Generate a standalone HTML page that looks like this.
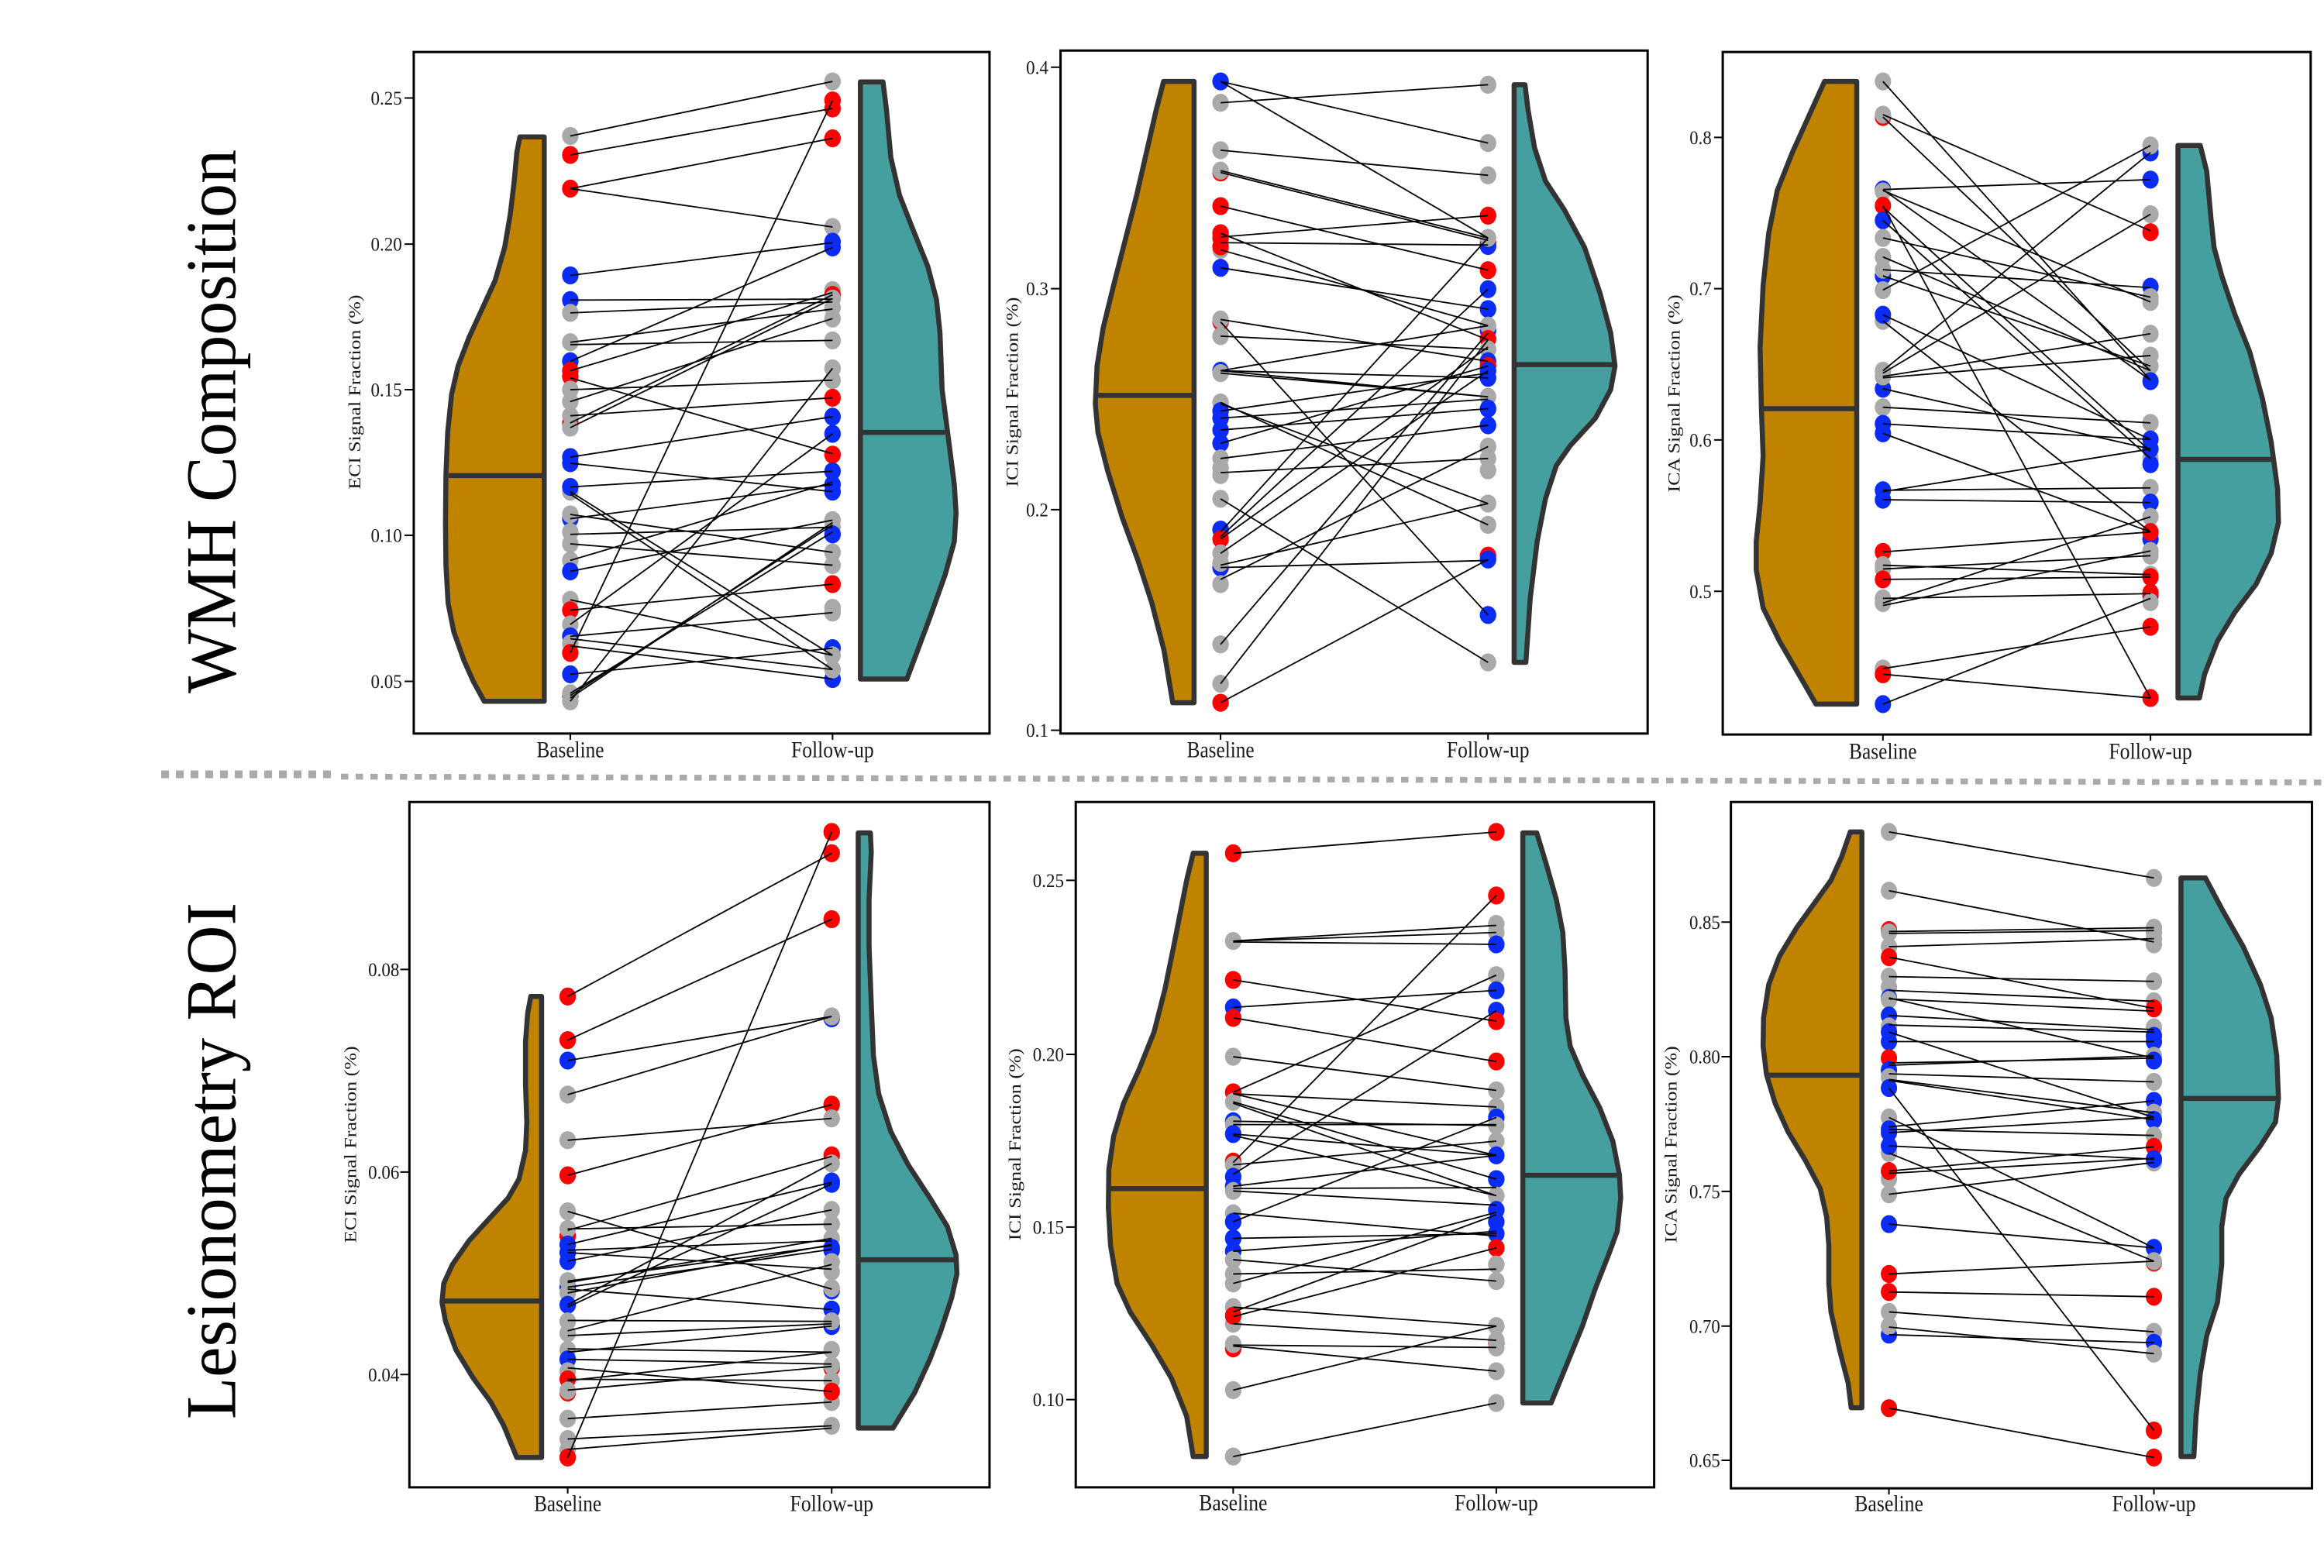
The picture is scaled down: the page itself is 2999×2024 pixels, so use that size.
<!DOCTYPE html>
<html><head><meta charset="utf-8">
<style>
html,body{margin:0;padding:0;background:#fff;}
svg{display:block;}
.g{fill:#a9a9a9}.r{fill:#ff0000}.b{fill:#0a2cf6}
.ln{fill:none;stroke:#000;stroke-width:1.8;vector-effect:non-scaling-stroke}
.vb{fill:#bf8300;stroke:#333;stroke-width:6.5;stroke-linejoin:round;vector-effect:non-scaling-stroke}
.vf{fill:#469f9f;stroke:#333;stroke-width:6.5;stroke-linejoin:round;vector-effect:non-scaling-stroke}
.md{stroke:#333;stroke-width:6.5;vector-effect:non-scaling-stroke}
.fr{fill:none;stroke:#000;stroke-width:3;vector-effect:non-scaling-stroke}
.tk{stroke:#000;stroke-width:2;vector-effect:non-scaling-stroke}
text{font-family:"Liberation Serif",serif;fill:#1a1a1a}
.yt{font-size:41px;text-anchor:end}
.xt{font-size:48px;text-anchor:middle}
.at{font-size:40px;text-anchor:middle}
</style></head>
<body>
<svg width="2999" height="2024" viewBox="0 0 2999 2024" xmlns="http://www.w3.org/2000/svg">
<rect x="0" y="0" width="2999" height="2024" fill="#fff"/>

<!-- Row labels -->
<text transform="translate(303.5,895) rotate(-90)" font-size="92" textLength="702" lengthAdjust="spacingAndGlyphs" style="fill:#000">WMH Composition</text>
<text transform="translate(303.5,1832) rotate(-90)" font-size="92" textLength="667" lengthAdjust="spacingAndGlyphs" style="fill:#000">Lesionometry ROI</text>

<!-- separator -->
<line x1="208" y1="999.5" x2="436" y2="999.5" stroke="#aaa" stroke-width="10" stroke-dasharray="10 9"/>
<line x1="440" y1="1002.5" x2="2999" y2="1010" stroke="#aaa" stroke-width="7.5" stroke-dasharray="9.5 9.5"/>

<!-- PANEL 1 -->
<g transform="translate(420,50) scale(0.5612,0.6122)">
<polygon class="vb" points="503,207 447,207 440,240 434,300 425,370 412,440 390,510 360,570 330,630 305,690 290,750 281,830 277,920 276,1020 277,1110 282,1190 295,1250 318,1310 340,1355 365,1397 503,1397"/>
<line class="md" x1="283" y1="921" x2="503" y2="921"/>
<polygon class="vf" points="1230,91 1282,91 1290,150 1300,250 1320,330 1350,400 1385,480 1405,550 1413,620 1418,740 1432,840 1446,940 1450,1000 1446,1060 1425,1130 1390,1220 1337,1350 1230,1350"/>
<line class="md" x1="1230" y1="830" x2="1425" y2="830"/>
<g>
<circle class="g" cx="563" cy="205" r="19"/><circle class="r" cx="563" cy="245" r="19"/><circle class="r" cx="563" cy="316" r="19"/><circle class="b" cx="563" cy="499" r="19"/><circle class="b" cx="563" cy="551" r="19"/><circle class="g" cx="563" cy="578" r="19"/><circle class="g" cx="563" cy="640" r="19"/><circle class="b" cx="563" cy="680" r="19"/><circle class="r" cx="563" cy="700" r="19"/><circle class="r" cx="563" cy="712" r="19"/><circle class="g" cx="563" cy="740" r="19"/><circle class="g" cx="563" cy="765" r="19"/><circle class="r" cx="563" cy="810" r="19"/><circle class="g" cx="563" cy="795" r="19"/><circle class="g" cx="563" cy="820" r="19"/><circle class="b" cx="563" cy="882" r="19"/><circle class="b" cx="563" cy="895" r="19"/><circle class="g" cx="563" cy="955" r="19"/><circle class="b" cx="563" cy="945" r="19"/><circle class="b" cx="563" cy="1012" r="19"/><circle class="g" cx="563" cy="1003" r="19"/><circle class="g" cx="563" cy="1040" r="19"/><circle class="g" cx="563" cy="1065" r="19"/><circle class="g" cx="563" cy="1100" r="19"/><circle class="b" cx="563" cy="1123" r="19"/><circle class="g" cx="563" cy="1183" r="19"/><circle class="r" cx="563" cy="1205" r="19"/><circle class="g" cx="563" cy="1235" r="19"/><circle class="b" cx="563" cy="1260" r="19"/><circle class="g" cx="563" cy="1275" r="19"/><circle class="r" cx="563" cy="1295" r="19"/><circle class="b" cx="563" cy="1340" r="19"/><circle class="b" cx="563" cy="1385" r="19"/><circle class="g" cx="563" cy="1380" r="19"/><circle class="g" cx="563" cy="1397" r="19"/>
<circle class="g" cx="1166" cy="90" r="19"/><circle class="r" cx="1166" cy="130" r="19"/><circle class="r" cx="1166" cy="147" r="19"/><circle class="r" cx="1166" cy="210" r="19"/><circle class="g" cx="1166" cy="397" r="19"/><circle class="b" cx="1166" cy="428" r="19"/><circle class="b" cx="1166" cy="440" r="19"/><circle class="g" cx="1166" cy="530" r="19"/><circle class="r" cx="1166" cy="540" r="19"/><circle class="g" cx="1166" cy="548" r="19"/><circle class="g" cx="1166" cy="567" r="19"/><circle class="g" cx="1166" cy="590" r="19"/><circle class="g" cx="1166" cy="636" r="19"/><circle class="g" cx="1166" cy="695" r="19"/><circle class="g" cx="1166" cy="720" r="19"/><circle class="r" cx="1166" cy="757" r="19"/><circle class="b" cx="1166" cy="797" r="19"/><circle class="b" cx="1166" cy="833" r="19"/><circle class="r" cx="1166" cy="877" r="19"/><circle class="b" cx="1166" cy="912" r="19"/><circle class="b" cx="1166" cy="940" r="19"/><circle class="b" cx="1166" cy="955" r="19"/><circle class="g" cx="1166" cy="1015" r="19"/><circle class="g" cx="1166" cy="1030" r="19"/><circle class="b" cx="1166" cy="1045" r="19"/><circle class="g" cx="1166" cy="1083" r="19"/><circle class="g" cx="1166" cy="1110" r="19"/><circle class="r" cx="1166" cy="1150" r="19"/><circle class="g" cx="1166" cy="1200" r="19"/><circle class="g" cx="1166" cy="1210" r="19"/><circle class="b" cx="1166" cy="1285" r="19"/><circle class="g" cx="1166" cy="1300" r="19"/><circle class="b" cx="1166" cy="1350" r="19"/><circle class="g" cx="1166" cy="1330" r="19"/>
</g>
<path class="ln" d="M563 205L1166 90M563 245L1166 147M563 316L1166 210M563 316L1166 397M563 499L1166 430M563 551L1166 549M563 578L1166 555M563 640L1166 570M563 645L1166 636M563 680L1166 440M563 700L1166 535M563 715L1166 875M563 740L1166 720M563 765L1166 590M563 795L1166 757M563 810L1166 540M563 820L1166 548M563 882L1166 797M563 895L1166 955M563 945L1166 912M563 955L1166 1300M563 960L1166 1330M563 1003L1166 1083M563 1012L1166 940M563 1045L1166 1030M563 1065L1166 1110M563 1100L1166 935M563 1123L1166 1015M563 1183L1166 1300M563 1205L1166 1150M563 1235L1166 833M563 1260L1166 1210M563 1265L1166 1330M563 1280L1166 1350M563 1295L1166 130M563 1340L1166 1285M563 1380L1166 1040M563 1385L1166 1025M563 1397L1166 695M563 1390L1166 1020"/>
<rect class="fr" x="203" y="28" width="1324" height="1437"/>
<path class="tk" d="M182 125H203M182 433H203M182 740H203M182 1047H203M182 1355H203M563 1465V1478M1166 1465V1478"/>
<text class="yt" x="176" y="139">0.25</text><text class="yt" x="176" y="447">0.20</text><text class="yt" x="176" y="754">0.15</text><text class="yt" x="176" y="1061">0.10</text><text class="yt" x="176" y="1369">0.05</text>
<text class="xt" x="563" y="1515" textLength="155" lengthAdjust="spacingAndGlyphs">Baseline</text>
<text class="xt" x="1166" y="1515" textLength="190" lengthAdjust="spacingAndGlyphs">Follow-up</text>
<text class="at" transform="translate(80,745) rotate(-90)" textLength="410" lengthAdjust="spacingAndGlyphs">ECI Signal Fraction (%)</text>
</g>

<!-- PANEL 2 -->
<g transform="translate(1290,50) scale(0.5612,0.6122)">
<polygon class="vb" points="447,90 377,90 360,150 340,230 315,330 290,420 262,520 238,610 224,690 220,770 226,830 248,910 282,1010 318,1100 350,1190 378,1290 398,1400 447,1400"/>
<line class="md" x1="222" y1="752" x2="447" y2="752"/>
<polygon class="vf" points="1183,97 1208,97 1215,150 1230,230 1255,300 1298,360 1345,440 1380,535 1405,620 1415,690 1405,740 1370,800 1312,858 1280,900 1255,970 1236,1060 1220,1180 1210,1315 1183,1315"/>
<line class="md" x1="1183" y1="687" x2="1412" y2="687"/>
<g>
<circle class="b" cx="508" cy="90" r="19"/><circle class="g" cx="508" cy="135" r="19"/><circle class="g" cx="508" cy="235" r="19"/><circle class="r" cx="508" cy="282" r="19"/><circle class="g" cx="508" cy="278" r="19"/><circle class="r" cx="508" cy="353" r="19"/><circle class="r" cx="508" cy="410" r="19"/><circle class="g" cx="508" cy="445" r="19"/><circle class="r" cx="508" cy="420" r="19"/><circle class="r" cx="508" cy="438" r="19"/><circle class="b" cx="508" cy="483" r="19"/><circle class="r" cx="508" cy="597" r="19"/><circle class="g" cx="508" cy="592" r="19"/><circle class="g" cx="508" cy="627" r="19"/><circle class="b" cx="508" cy="700" r="19"/><circle class="g" cx="508" cy="705" r="19"/><circle class="g" cx="508" cy="767" r="19"/><circle class="b" cx="508" cy="785" r="19"/><circle class="b" cx="508" cy="800" r="19"/><circle class="b" cx="508" cy="825" r="19"/><circle class="b" cx="508" cy="853" r="19"/><circle class="g" cx="508" cy="885" r="19"/><circle class="g" cx="508" cy="905" r="19"/><circle class="g" cx="508" cy="920" r="19"/><circle class="g" cx="508" cy="970" r="19"/><circle class="b" cx="508" cy="1035" r="19"/><circle class="r" cx="508" cy="1055" r="19"/><circle class="b" cx="508" cy="1115" r="19"/><circle class="g" cx="508" cy="1085" r="19"/><circle class="g" cx="508" cy="1105" r="19"/><circle class="g" cx="508" cy="1150" r="19"/><circle class="g" cx="508" cy="1277" r="19"/><circle class="g" cx="508" cy="1360" r="19"/><circle class="r" cx="508" cy="1400" r="19"/>
<circle class="g" cx="1123" cy="97" r="19"/><circle class="g" cx="1123" cy="220" r="19"/><circle class="g" cx="1123" cy="288" r="19"/><circle class="r" cx="1123" cy="373" r="19"/><circle class="r" cx="1123" cy="430" r="19"/><circle class="b" cx="1123" cy="437" r="19"/><circle class="g" cx="1123" cy="420" r="19"/><circle class="r" cx="1123" cy="488" r="19"/><circle class="b" cx="1123" cy="528" r="19"/><circle class="b" cx="1123" cy="570" r="19"/><circle class="b" cx="1123" cy="615" r="19"/><circle class="g" cx="1123" cy="605" r="19"/><circle class="r" cx="1123" cy="633" r="19"/><circle class="g" cx="1123" cy="655" r="19"/><circle class="b" cx="1123" cy="680" r="19"/><circle class="r" cx="1123" cy="690" r="19"/><circle class="b" cx="1123" cy="700" r="19"/><circle class="b" cx="1123" cy="715" r="19"/><circle class="g" cx="1123" cy="755" r="19"/><circle class="b" cx="1123" cy="780" r="19"/><circle class="b" cx="1123" cy="815" r="19"/><circle class="g" cx="1123" cy="860" r="19"/><circle class="g" cx="1123" cy="885" r="19"/><circle class="g" cx="1123" cy="910" r="19"/><circle class="g" cx="1123" cy="980" r="19"/><circle class="g" cx="1123" cy="1025" r="19"/><circle class="r" cx="1123" cy="1090" r="19"/><circle class="b" cx="1123" cy="1098" r="19"/><circle class="b" cx="1123" cy="1215" r="19"/><circle class="g" cx="1123" cy="1315" r="19"/>
</g>
<path class="ln" d="M508 90L1123 220M508 90L1123 420M508 135L1123 97M508 235L1123 288M508 278L1123 420M508 282L1123 425M508 353L1123 488M508 410L1123 635M508 418L1123 373M508 430L1123 435M508 445L1123 605M508 483L1123 570M508 592L1123 680M508 597L1123 1215M508 627L1123 655M508 700L1123 605M508 700L1123 715M508 700L1123 755M508 705L1123 755M508 767L1123 1025M508 770L1123 980M508 785L1123 705M508 800L1123 760M508 825L1123 780M508 853L1123 690M508 885L1123 815M508 915L1123 885M508 970L1123 1315M508 1040L1123 420M508 1050L1123 528M508 1055L1123 650M508 1085L1123 700M508 1110L1123 980M508 1115L1123 1100M508 1140L1123 860M508 1277L1123 620M508 1360L1123 635M508 1400L1123 1098"/>
<rect class="fr" x="140" y="25" width="1350" height="1440"/>
<path class="tk" d="M118 60H140M118 527H140M118 993H140M118 1458H140M508 1465V1478M1123 1465V1478"/>
<text class="yt" x="112" y="74">0.4</text><text class="yt" x="112" y="541">0.3</text><text class="yt" x="112" y="1007">0.2</text><text class="yt" x="112" y="1472">0.1</text>
<text class="xt" x="508" y="1515" textLength="155" lengthAdjust="spacingAndGlyphs">Baseline</text>
<text class="xt" x="1123" y="1515" textLength="190" lengthAdjust="spacingAndGlyphs">Follow-up</text>
<text class="at" transform="translate(42,745) rotate(-90)" textLength="400" lengthAdjust="spacingAndGlyphs">ICI Signal Fraction (%)</text>
</g>

<!-- PANEL 3 -->
<g transform="translate(2130,50) scale(0.5542,0.6122)">
<polygon class="vb" points="480,90 405,90 370,160 330,240 295,320 275,410 262,520 255,650 258,780 262,880 255,980 246,1060 246,1120 262,1200 300,1270 345,1340 385,1403 480,1403"/>
<line class="md" x1="258" y1="780" x2="480" y2="780"/>
<polygon class="vf" points="1228,225 1280,225 1295,280 1305,380 1312,440 1330,500 1360,580 1395,660 1425,760 1445,850 1460,950 1462,1020 1445,1085 1410,1150 1360,1210 1320,1270 1290,1340 1278,1390 1228,1390"/>
<line class="md" x1="1228" y1="887" x2="1445" y2="887"/>
<g>
<circle class="g" cx="541" cy="90" r="19"/><circle class="r" cx="541" cy="165" r="19"/><circle class="g" cx="541" cy="160" r="19"/><circle class="b" cx="541" cy="318" r="19"/><circle class="g" cx="541" cy="322" r="19"/><circle class="r" cx="541" cy="352" r="19"/><circle class="b" cx="541" cy="383" r="19"/><circle class="g" cx="541" cy="420" r="19"/><circle class="g" cx="541" cy="460" r="19"/><circle class="b" cx="541" cy="500" r="19"/><circle class="g" cx="541" cy="487" r="19"/><circle class="g" cx="541" cy="530" r="19"/><circle class="g" cx="541" cy="595" r="19"/><circle class="b" cx="541" cy="582" r="19"/><circle class="g" cx="541" cy="700" r="19"/><circle class="b" cx="541" cy="738" r="19"/><circle class="g" cx="541" cy="712" r="19"/><circle class="g" cx="541" cy="777" r="19"/><circle class="b" cx="541" cy="812" r="19"/><circle class="b" cx="541" cy="832" r="19"/><circle class="b" cx="541" cy="952" r="19"/><circle class="b" cx="541" cy="972" r="19"/><circle class="r" cx="541" cy="1082" r="19"/><circle class="g" cx="541" cy="1110" r="19"/><circle class="g" cx="541" cy="1118" r="19"/><circle class="r" cx="541" cy="1140" r="19"/><circle class="g" cx="541" cy="1180" r="19"/><circle class="g" cx="541" cy="1190" r="19"/><circle class="g" cx="541" cy="1328" r="19"/><circle class="r" cx="541" cy="1340" r="19"/><circle class="b" cx="541" cy="1403" r="19"/>
<circle class="b" cx="1164" cy="240" r="19"/><circle class="g" cx="1164" cy="225" r="19"/><circle class="b" cx="1164" cy="297" r="19"/><circle class="g" cx="1164" cy="370" r="19"/><circle class="r" cx="1164" cy="408" r="19"/><circle class="b" cx="1164" cy="523" r="19"/><circle class="g" cx="1164" cy="545" r="19"/><circle class="g" cx="1164" cy="555" r="19"/><circle class="g" cx="1164" cy="622" r="19"/><circle class="g" cx="1164" cy="668" r="19"/><circle class="g" cx="1164" cy="690" r="19"/><circle class="b" cx="1164" cy="722" r="19"/><circle class="g" cx="1164" cy="810" r="19"/><circle class="g" cx="1164" cy="885" r="19"/><circle class="b" cx="1164" cy="897" r="19"/><circle class="b" cx="1164" cy="845" r="19"/><circle class="b" cx="1164" cy="865" r="19"/><circle class="g" cx="1164" cy="947" r="19"/><circle class="b" cx="1164" cy="978" r="19"/><circle class="g" cx="1164" cy="1008" r="19"/><circle class="b" cx="1164" cy="1055" r="19"/><circle class="r" cx="1164" cy="1040" r="19"/><circle class="g" cx="1164" cy="1080" r="19"/><circle class="g" cx="1164" cy="1090" r="19"/><circle class="g" cx="1164" cy="1130" r="19"/><circle class="r" cx="1164" cy="1135" r="19"/><circle class="b" cx="1164" cy="1175" r="19"/><circle class="r" cx="1164" cy="1168" r="19"/><circle class="g" cx="1164" cy="1188" r="19"/><circle class="r" cx="1164" cy="1240" r="19"/><circle class="r" cx="1164" cy="1390" r="19"/>
</g>
<path class="ln" d="M541 90L1164 720M541 160L1164 405M541 165L1164 700M541 318L1164 297M541 318L1164 720M541 320L1164 555M541 352L1164 1390M541 355L1164 870M541 383L1164 885M541 420L1164 545M541 460L1164 700M541 487L1164 525M541 500L1164 690M541 530L1164 225M541 582L1164 845M541 595L1164 1040M541 700L1164 240M541 705L1164 370M541 712L1164 622M541 715L1164 668M541 738L1164 865M541 777L1164 810M541 812L1164 845M541 832L1164 1040M541 952L1164 947M541 972L1164 978M541 955L1164 865M541 1082L1164 1040M541 1110L1164 1130M541 1118L1164 1090M541 1140L1164 1135M541 1180L1164 1170M541 1190L1164 1008M541 1195L1164 1080M541 1328L1164 1240M541 1340L1164 1390M541 1403L1164 1180"/>
<rect class="fr" x="168" y="28" width="1369" height="1439"/>
<path class="tk" d="M148 208H168M148 527H168M148 846H168M148 1165H168M541 1467V1480M1164 1467V1480"/>
<text class="yt" x="142" y="222">0.8</text><text class="yt" x="142" y="541">0.7</text><text class="yt" x="142" y="860">0.6</text><text class="yt" x="142" y="1179">0.5</text>
<text class="xt" x="541" y="1518" textLength="158" lengthAdjust="spacingAndGlyphs">Baseline</text>
<text class="xt" x="1164" y="1518" textLength="194" lengthAdjust="spacingAndGlyphs">Follow-up</text>
<text class="at" transform="translate(68,748) rotate(-90)" textLength="417" lengthAdjust="spacingAndGlyphs">ICA Signal Fraction (%)</text>
</g>

<!-- PANEL 4 -->
<g transform="translate(420,1020) scale(0.5612,0.6122)">
<polygon class="vb" points="497,435 472,435 465,470 460,530 460,620 463,700 460,760 445,820 420,860 380,900 330,950 292,1000 272,1040 268,1080 276,1120 300,1180 340,1240 380,1290 410,1340 440,1407 497,1407"/>
<line class="md" x1="268" y1="1077" x2="497" y2="1077"/>
<polygon class="vf" points="1225,90 1253,90 1255,130 1250,230 1250,330 1255,450 1260,560 1272,640 1300,720 1340,790 1390,860 1430,920 1450,980 1452,1020 1440,1070 1415,1140 1390,1200 1355,1270 1305,1345 1225,1345"/>
<line class="md" x1="1225" y1="990" x2="1450" y2="990"/>
<g>
<circle class="r" cx="557" cy="435" r="19"/><circle class="r" cx="557" cy="527" r="19"/><circle class="b" cx="557" cy="570" r="19"/><circle class="g" cx="557" cy="642" r="19"/><circle class="g" cx="557" cy="738" r="19"/><circle class="r" cx="557" cy="812" r="19"/><circle class="g" cx="557" cy="888" r="19"/><circle class="r" cx="557" cy="940" r="19"/><circle class="g" cx="557" cy="925" r="19"/><circle class="b" cx="557" cy="958" r="19"/><circle class="b" cx="557" cy="975" r="19"/><circle class="b" cx="557" cy="993" r="19"/><circle class="b" cx="557" cy="1048" r="19"/><circle class="g" cx="557" cy="1035" r="19"/><circle class="g" cx="557" cy="1060" r="19"/><circle class="b" cx="557" cy="1085" r="19"/><circle class="g" cx="557" cy="1120" r="19"/><circle class="g" cx="557" cy="1145" r="19"/><circle class="g" cx="557" cy="1180" r="19"/><circle class="b" cx="557" cy="1200" r="19"/><circle class="g" cx="557" cy="1225" r="19"/><circle class="r" cx="557" cy="1242" r="19"/><circle class="r" cx="557" cy="1270" r="19"/><circle class="g" cx="557" cy="1266" r="19"/><circle class="g" cx="557" cy="1325" r="19"/><circle class="g" cx="557" cy="1368" r="19"/><circle class="g" cx="557" cy="1390" r="19"/><circle class="r" cx="557" cy="1407" r="19"/>
<circle class="r" cx="1164" cy="88" r="19"/><circle class="r" cx="1164" cy="133" r="19"/><circle class="r" cx="1164" cy="272" r="19"/><circle class="b" cx="1164" cy="481" r="19"/><circle class="g" cx="1164" cy="477" r="19"/><circle class="r" cx="1164" cy="663" r="19"/><circle class="g" cx="1164" cy="692" r="19"/><circle class="r" cx="1164" cy="770" r="19"/><circle class="g" cx="1164" cy="787" r="19"/><circle class="b" cx="1164" cy="825" r="19"/><circle class="b" cx="1164" cy="830" r="19"/><circle class="g" cx="1164" cy="885" r="19"/><circle class="g" cx="1164" cy="915" r="19"/><circle class="g" cx="1164" cy="945" r="19"/><circle class="b" cx="1164" cy="965" r="19"/><circle class="b" cx="1164" cy="970" r="19"/><circle class="g" cx="1164" cy="995" r="19"/><circle class="g" cx="1164" cy="1015" r="19"/><circle class="b" cx="1164" cy="1055" r="19"/><circle class="g" cx="1164" cy="1050" r="19"/><circle class="b" cx="1164" cy="1095" r="19"/><circle class="b" cx="1164" cy="1130" r="19"/><circle class="g" cx="1164" cy="1120" r="19"/><circle class="g" cx="1164" cy="1180" r="19"/><circle class="r" cx="1164" cy="1218" r="19"/><circle class="g" cx="1164" cy="1213" r="19"/><circle class="g" cx="1164" cy="1245" r="19"/><circle class="g" cx="1164" cy="1290" r="19"/><circle class="r" cx="1164" cy="1268" r="19"/><circle class="g" cx="1164" cy="1340" r="19"/>
</g>
<path class="ln" d="M557 435L1164 133M557 527L1164 272M557 570L1164 477M557 642L1164 477M557 738L1164 692M557 812L1164 663M557 888L1164 1052M557 925L1164 915M557 928L1164 772M557 958L1164 827M557 970L1164 950M557 975L1164 1010M557 993L1164 885M557 1035L1164 960M557 1038L1164 945M557 1048L1164 968M557 1052L1164 1095M557 1060L1164 958M557 1085L1164 787M557 1090L1164 830M557 1118L1164 1120M557 1140L1164 1000M557 1150L1164 1125M557 1178L1164 1185M557 1185L1164 1130M557 1200L1164 1210M557 1218L1164 1268M557 1242L1164 1245M557 1245L1164 1185M557 1265L1164 1215M557 1325L1164 1290M557 1368L1164 1340M557 1390L1164 1345M557 1407L1164 88"/>
<rect class="fr" x="193" y="25" width="1334" height="1445"/>
<path class="tk" d="M172 378H193M172 805H193M172 1232H193M557 1470V1483M1164 1470V1483"/>
<text class="yt" x="170" y="392">0.08</text><text class="yt" x="170" y="819">0.06</text><text class="yt" x="170" y="1246">0.04</text>
<text class="xt" x="557" y="1520" textLength="155" lengthAdjust="spacingAndGlyphs">Baseline</text>
<text class="xt" x="1164" y="1520" textLength="192" lengthAdjust="spacingAndGlyphs">Follow-up</text>
<text class="at" transform="translate(70,747) rotate(-90)" textLength="415" lengthAdjust="spacingAndGlyphs">ECI Signal Fraction (%)</text>
</g>

<!-- PANEL 5 -->
<g transform="translate(1290,1020) scale(0.5612,0.6122)">
<polygon class="vb" points="475,133 445,133 430,190 415,260 400,330 380,420 355,510 320,590 285,660 262,730 251,800 250,880 255,960 270,1040 300,1100 350,1170 395,1240 430,1320 445,1405 475,1405"/>
<line class="md" x1="250" y1="840" x2="475" y2="840"/>
<polygon class="vf" points="1203,90 1235,90 1255,150 1280,230 1295,300 1300,380 1302,480 1312,540 1340,600 1380,670 1410,740 1425,810 1428,860 1420,930 1400,980 1370,1050 1340,1130 1300,1220 1268,1292 1203,1292"/>
<line class="md" x1="1203" y1="812" x2="1422" y2="812"/>
<g>
<circle class="r" cx="537" cy="133" r="19"/><circle class="g" cx="537" cy="318" r="19"/><circle class="r" cx="537" cy="400" r="19"/><circle class="b" cx="537" cy="458" r="19"/><circle class="r" cx="537" cy="480" r="19"/><circle class="g" cx="537" cy="562" r="19"/><circle class="r" cx="537" cy="637" r="19"/><circle class="g" cx="537" cy="657" r="19"/><circle class="b" cx="537" cy="698" r="19"/><circle class="g" cx="537" cy="705" r="19"/><circle class="b" cx="537" cy="725" r="19"/><circle class="r" cx="537" cy="783" r="19"/><circle class="g" cx="537" cy="790" r="19"/><circle class="b" cx="537" cy="815" r="19"/><circle class="b" cx="537" cy="835" r="19"/><circle class="g" cx="537" cy="845" r="19"/><circle class="g" cx="537" cy="892" r="19"/><circle class="b" cx="537" cy="910" r="19"/><circle class="b" cx="537" cy="945" r="19"/><circle class="b" cx="537" cy="972" r="19"/><circle class="g" cx="537" cy="990" r="19"/><circle class="g" cx="537" cy="1020" r="19"/><circle class="g" cx="537" cy="1040" r="19"/><circle class="g" cx="537" cy="1090" r="19"/><circle class="g" cx="537" cy="1125" r="19"/><circle class="r" cx="537" cy="1108" r="19"/><circle class="r" cx="537" cy="1177" r="19"/><circle class="g" cx="537" cy="1168" r="19"/><circle class="g" cx="537" cy="1265" r="19"/><circle class="g" cx="537" cy="1405" r="19"/>
<circle class="r" cx="1142" cy="88" r="19"/><circle class="r" cx="1142" cy="222" r="19"/><circle class="g" cx="1142" cy="282" r="19"/><circle class="g" cx="1142" cy="300" r="19"/><circle class="b" cx="1142" cy="325" r="19"/><circle class="g" cx="1142" cy="390" r="19"/><circle class="b" cx="1142" cy="422" r="19"/><circle class="b" cx="1142" cy="465" r="19"/><circle class="r" cx="1142" cy="487" r="19"/><circle class="r" cx="1142" cy="572" r="19"/><circle class="g" cx="1142" cy="633" r="19"/><circle class="g" cx="1142" cy="668" r="19"/><circle class="b" cx="1142" cy="690" r="19"/><circle class="g" cx="1142" cy="707" r="19"/><circle class="g" cx="1142" cy="740" r="19"/><circle class="b" cx="1142" cy="770" r="19"/><circle class="b" cx="1142" cy="820" r="19"/><circle class="g" cx="1142" cy="855" r="19"/><circle class="b" cx="1142" cy="885" r="19"/><circle class="b" cx="1142" cy="910" r="19"/><circle class="b" cx="1142" cy="935" r="19"/><circle class="r" cx="1142" cy="965" r="19"/><circle class="g" cx="1142" cy="1000" r="19"/><circle class="g" cx="1142" cy="1035" r="19"/><circle class="g" cx="1142" cy="1130" r="19"/><circle class="r" cx="1142" cy="1165" r="19"/><circle class="g" cx="1142" cy="1160" r="19"/><circle class="g" cx="1142" cy="1175" r="19"/><circle class="g" cx="1142" cy="1225" r="19"/><circle class="g" cx="1142" cy="1292" r="19"/>
</g>
<path class="ln" d="M537 133L1142 88M537 318L1142 285M537 318L1142 300M537 320L1142 325M537 400L1142 487M537 458L1142 422M537 480L1142 572M537 562L1142 633M537 637L1142 390M537 640L1142 668M537 640L1142 770M537 657L1142 820M537 660L1142 855M537 698L1142 707M537 705L1142 705M537 725L1142 770M537 728L1142 855M537 785L1142 222M537 790L1142 740M537 810L1142 465M537 835L1142 770M537 840L1142 838M537 845L1142 875M537 892L1142 940M537 910L1142 690M537 945L1142 935M537 972L1142 930M537 990L1142 1035M537 1020L1142 1010M537 1040L1142 890M537 1090L1142 1130M537 1100L1142 895M537 1110L1142 965M537 1125L1142 1160M537 1170L1142 1175M537 1172L1142 1225M537 1265L1142 1130M537 1405L1142 1292"/>
<rect class="fr" x="175" y="25" width="1330" height="1445"/>
<path class="tk" d="M153 190H175M153 557H175M153 921H175M153 1285H175M537 1470V1483M1142 1470V1483"/>
<text class="yt" x="148" y="204">0.25</text><text class="yt" x="148" y="571">0.20</text><text class="yt" x="148" y="935">0.15</text><text class="yt" x="148" y="1299">0.10</text>
<text class="xt" x="537" y="1518" textLength="157" lengthAdjust="spacingAndGlyphs">Baseline</text>
<text class="xt" x="1142" y="1518" textLength="192" lengthAdjust="spacingAndGlyphs">Follow-up</text>
<text class="at" transform="translate(48,747) rotate(-90)" textLength="405" lengthAdjust="spacingAndGlyphs">ICI Signal Fraction (%)</text>
</g>

<!-- PANEL 6 -->
<g transform="translate(2130,1020) scale(0.5542,0.6122)">
<polygon class="vb" points="492,88 465,88 445,140 420,190 380,240 340,290 300,350 275,410 263,480 262,540 270,600 290,660 320,720 360,780 395,840 410,900 415,960 415,1040 420,1100 440,1180 460,1250 467,1302 492,1302"/>
<line class="md" x1="268" y1="601" x2="492" y2="601"/>
<polygon class="vf" points="1235,185 1292,185 1330,250 1380,330 1420,410 1445,480 1458,560 1462,650 1455,700 1420,750 1370,810 1340,860 1330,920 1330,1000 1320,1080 1295,1150 1280,1230 1270,1320 1265,1405 1235,1405"/>
<line class="md" x1="1235" y1="650" x2="1462" y2="650"/>
<g>
<circle class="g" cx="555" cy="88" r="19"/><circle class="g" cx="555" cy="212" r="19"/><circle class="r" cx="555" cy="295" r="19"/><circle class="g" cx="555" cy="300" r="19"/><circle class="g" cx="555" cy="330" r="19"/><circle class="r" cx="555" cy="352" r="19"/><circle class="g" cx="555" cy="393" r="19"/><circle class="g" cx="555" cy="415" r="19"/><circle class="b" cx="555" cy="438" r="19"/><circle class="g" cx="555" cy="442" r="19"/><circle class="b" cx="555" cy="475" r="19"/><circle class="g" cx="555" cy="498" r="19"/><circle class="b" cx="555" cy="510" r="19"/><circle class="b" cx="555" cy="530" r="19"/><circle class="r" cx="555" cy="565" r="19"/><circle class="b" cx="555" cy="590" r="19"/><circle class="g" cx="555" cy="605" r="19"/><circle class="b" cx="555" cy="628" r="19"/><circle class="g" cx="555" cy="690" r="19"/><circle class="b" cx="555" cy="715" r="19"/><circle class="b" cx="555" cy="722" r="19"/><circle class="g" cx="555" cy="765" r="19"/><circle class="b" cx="555" cy="750" r="19"/><circle class="g" cx="555" cy="820" r="19"/><circle class="r" cx="555" cy="803" r="19"/><circle class="g" cx="555" cy="852" r="19"/><circle class="b" cx="555" cy="915" r="19"/><circle class="r" cx="555" cy="1020" r="19"/><circle class="r" cx="555" cy="1058" r="19"/><circle class="g" cx="555" cy="1100" r="19"/><circle class="b" cx="555" cy="1148" r="19"/><circle class="g" cx="555" cy="1130" r="19"/><circle class="r" cx="555" cy="1303" r="19"/>
<circle class="g" cx="1172" cy="185" r="19"/><circle class="g" cx="1172" cy="290" r="19"/><circle class="g" cx="1172" cy="300" r="19"/><circle class="g" cx="1172" cy="313" r="19"/><circle class="g" cx="1172" cy="325" r="19"/><circle class="g" cx="1172" cy="403" r="19"/><circle class="g" cx="1172" cy="445" r="19"/><circle class="r" cx="1172" cy="460" r="19"/><circle class="g" cx="1172" cy="500" r="19"/><circle class="b" cx="1172" cy="518" r="19"/><circle class="b" cx="1172" cy="530" r="19"/><circle class="g" cx="1172" cy="560" r="19"/><circle class="b" cx="1172" cy="570" r="19"/><circle class="g" cx="1172" cy="615" r="19"/><circle class="b" cx="1172" cy="655" r="19"/><circle class="g" cx="1172" cy="680" r="19"/><circle class="b" cx="1172" cy="695" r="19"/><circle class="g" cx="1172" cy="728" r="19"/><circle class="r" cx="1172" cy="752" r="19"/><circle class="g" cx="1172" cy="785" r="19"/><circle class="b" cx="1172" cy="778" r="19"/><circle class="b" cx="1172" cy="965" r="19"/><circle class="r" cx="1172" cy="996" r="19"/><circle class="g" cx="1172" cy="993" r="19"/><circle class="r" cx="1172" cy="1068" r="19"/><circle class="g" cx="1172" cy="1142" r="19"/><circle class="b" cx="1172" cy="1165" r="19"/><circle class="g" cx="1172" cy="1188" r="19"/><circle class="r" cx="1172" cy="1350" r="19"/><circle class="r" cx="1172" cy="1407" r="19"/>
</g>
<path class="ln" d="M555 88L1172 185M555 212L1172 320M555 298L1172 290M555 302L1172 296M555 330L1172 313M555 352L1172 460M555 393L1172 403M555 422L1172 445M555 438L1172 565M555 440L1172 466M555 475L1172 505M555 495L1172 510M555 510L1172 690M555 530L1172 530M555 575L1172 565M555 580L1172 560M555 598L1172 615M555 610L1172 680M555 612L1172 695M555 628L1172 1350M555 690L1172 965M555 710L1172 655M555 715L1172 728M555 722L1172 690M555 750L1172 778M555 765L1172 993M555 803L1172 752M555 808L1172 776M555 852L1172 785M555 915L1172 965M555 1020L1172 993M555 1058L1172 1068M555 1100L1172 1142M555 1132L1172 1188M555 1148L1172 1165M555 1303L1172 1407"/>
<rect class="fr" x="187" y="25" width="1353" height="1447"/>
<path class="tk" d="M165 278H187M165 562H187M165 846H187M165 1130H187M165 1413H187M555 1472V1485M1172 1472V1485"/>
<text class="yt" x="162" y="292">0.85</text><text class="yt" x="162" y="576">0.80</text><text class="yt" x="162" y="860">0.75</text><text class="yt" x="162" y="1144">0.70</text><text class="yt" x="162" y="1427">0.65</text>
<text class="xt" x="555" y="1520" textLength="160" lengthAdjust="spacingAndGlyphs">Baseline</text>
<text class="xt" x="1172" y="1520" textLength="195" lengthAdjust="spacingAndGlyphs">Follow-up</text>
<text class="at" transform="translate(60,747) rotate(-90)" textLength="415" lengthAdjust="spacingAndGlyphs">ICA Signal Fraction (%)</text>
</g>

</svg>
</body></html>
